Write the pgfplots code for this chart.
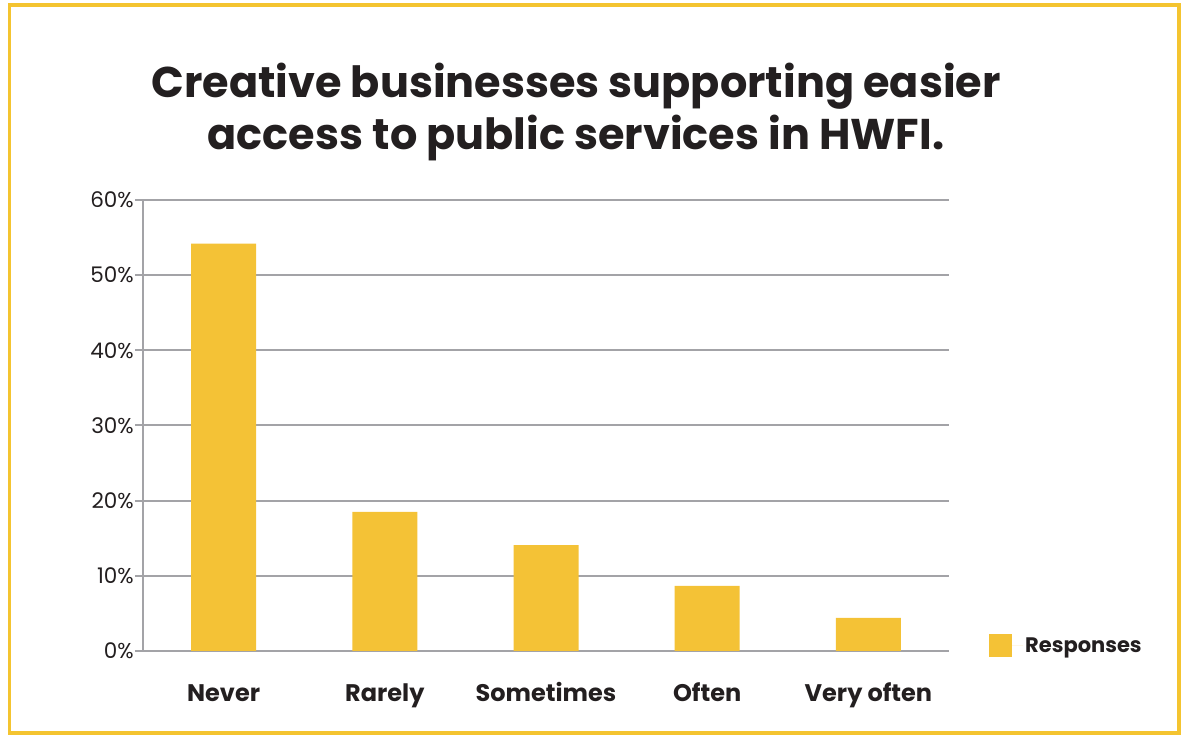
\documentclass[border=0pt]{standalone}
\usepackage{fontspec}
\setmainfont{Poppins}
\usepackage{pgfplots}
\pgfplotsset{compat=1.18}
\definecolor{baryellow}{HTML}{F4C236}
\definecolor{frameyellow}{HTML}{F4C430}
\definecolor{txt}{HTML}{231F20}
\definecolor{gridgray}{HTML}{A3A3A7}
\begin{document}
\begin{tikzpicture}
\begin{axis}[
  name=ax,
  scale only axis, width=806pt, height=451pt,
  xmin=-0.5, xmax=4.5, ymin=0, ymax=60,
  axis x line=bottom, axis y line=left,
  axis line style={gridgray, line width=2pt, -},
  ytick={0,10,...,60},
  yticklabel={\pgfmathprintnumber{\tick}\%},
  ymajorgrids, grid style={gridgray, line width=2pt},
  xtick={0,1,2,3,4},
  xticklabels={Never,Rarely,Sometimes,Often,Very often},
  major x tick style={draw=none},
  extra x ticks={-0.5,0.5,1.5,2.5,3.5,4.5},
  extra x tick labels={},
  extra x tick style={grid=none, tick style={gridgray, line width=2pt}},
  ytick style={gridgray, line width=2pt},
  major tick length=8pt,
  tick align=outside,
  yticklabel style={font={\fontsize{21.5}{21.5}\selectfont}, txt, /pgf/number format/assume math mode=true, inner sep=1pt},
  xticklabel style={font={\fontsize{24}{24}\selectfont\bfseries}, txt, anchor=base, yshift=-42pt},
  ybar, bar width=65pt,
  legend style={at={(1.0496,0.0122)}, anchor=west, draw=none, fill=none, inner sep=0pt,
    font={\fontsize{21}{21}\selectfont\bfseries}, text=txt},
  legend image code/.code={\path (0pt,0pt) -- (34pt,0pt); \fill[baryellow] (0pt,-11.5pt) rectangle (23pt,11.5pt);},
  legend cell align=left,
  clip=false,
]
\addplot[fill=baryellow, draw=none] coordinates {(0,54.2) (1,18.5) (2,14.1) (3,8.65) (4,4.4)};
\addlegendentry{Responses}
\coordinate (O) at (rel axis cs:0,0);
\end{axis}
\begin{scope}[shift={(O)}, xshift=-143pt, yshift=651pt, x=1pt, y=-1pt]
\path (0,0) rectangle (1182,735);
\draw[frameyellow, line width=3.5pt] (9.5,5) rectangle (1179,733);
\node[txt, align=center, font={\fontsize{43}{52}\selectfont\bfseries}, anchor=base] at (576,150) {Creative businesses supporting easier\\access to public services in HWFI.};
\end{scope}
\end{tikzpicture}
\end{document}
